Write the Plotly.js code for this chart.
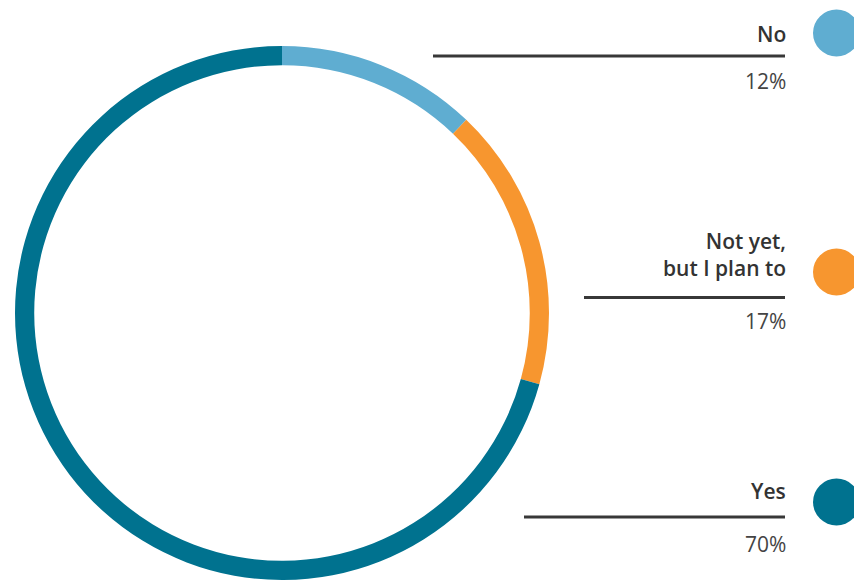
<!DOCTYPE html>
<html>
<head>
<meta charset="utf-8">
<script src="https://cdn.plot.ly/plotly-3.0.1.min.js"></script>
<style>html,body{margin:0;padding:0;background:#fff;}#chart{width:854px;height:580px;}</style>
</head>
<body>
<div id="chart"></div>
<script>
// Data
var labels = ["No", "Not yet,<br>but I plan to", "Yes"];
var values = [12, 17, 70];
var colors = ["#5FADD1", "#F7962F", "#00728F"];

var W = 854, H = 580;
function px(x) { return x / W; }
function py(y) { return 1 - y / H; }

// legend layout (pixel positions)
var legendY = [
  {label: 33.5, line: 56, pct: 80.5, circle: 33, lineX0: 433},
  {label: 254.5, line: 297.5, pct: 320.5, circle: 272, lineX0: 584},
  {label: 490.5, line: 517, pct: 543.5, circle: 502, lineX0: 524}
];

var trace = {
  type: "pie",
  labels: labels,
  values: values,
  marker: {colors: colors, line: {width: 0}},
  hole: 0.928,
  sort: false,
  direction: "clockwise",
  rotation: 0,
  textinfo: "none",
  hoverinfo: "label+percent",
  showlegend: false,
  domain: {x: [px(14), px(550)], y: [0, py(46)]}
};

var annotations = [];
var shapes = [];
labels.forEach(function (lab, i) {
  var p = legendY[i];
  annotations.push({
    xref: "paper", yref: "paper", x: px(787.5), y: py(p.label),
    xanchor: "right", yanchor: "middle", align: "right", showarrow: false,
    text: lab,
    font: {family: "Open Sans, sans-serif", size: 21, color: "#333333", weight: 600}
  });
  annotations.push({
    xref: "paper", yref: "paper", x: px(787.5), y: py(p.pct),
    xanchor: "right", yanchor: "middle", align: "right", showarrow: false,
    text: values[i] + "%",
    font: {family: "Open Sans, sans-serif", size: 21, color: "#444444"}
  });
  shapes.push({
    type: "line", xref: "paper", yref: "paper",
    x0: px(p.lineX0), x1: px(785), y0: py(p.line), y1: py(p.line),
    line: {color: "#383838", width: 3}
  });
  shapes.push({
    type: "circle", xref: "paper", yref: "paper",
    x0: px(813), x1: px(860), y0: py(p.circle - 23.5), y1: py(p.circle + 23.5),
    fillcolor: colors[i], line: {width: 0}
  });
});

var layout = {
  width: W, height: H,
  margin: {l: 0, r: 0, t: 0, b: 0},
  paper_bgcolor: "#ffffff",
  plot_bgcolor: "#ffffff",
  showlegend: false,
  annotations: annotations,
  shapes: shapes
};

Plotly.newPlot("chart", [trace], layout, {displayModeBar: false, staticPlot: true});
</script>
</body>
</html>
